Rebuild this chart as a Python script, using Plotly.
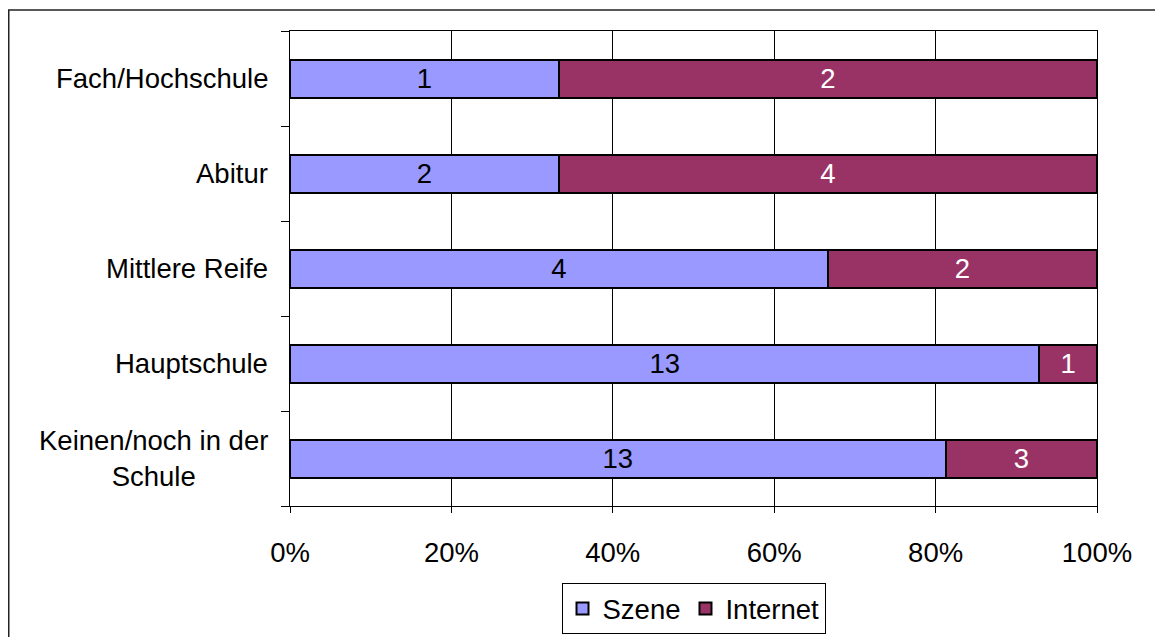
import plotly.graph_objects as go

categories = ["Keinen/noch in der Schule", "Hauptschule", "Mittlere Reife", "Abitur", "Fach/Hochschule"]
category_labels = ["Keinen/noch in der<br>Schule", "Hauptschule", "Mittlere Reife", "Abitur", "Fach/Hochschule"]
szene = [13, 13, 4, 2, 1]
internet = [3, 1, 2, 4, 2]
x_ticks = [0, 0.2, 0.4, 0.6, 0.8, 1.0]

FONT = "Liberation Sans, Arial, sans-serif"
FS = 27.5

fig = go.Figure()
fig.add_trace(go.Bar(
    y=categories, x=szene, name="Szene", orientation="h",
    marker=dict(color="#9999FF", line=dict(color="black", width=2)),
    text=szene, textposition="inside", insidetextanchor="middle", textangle=0,
    textfont=dict(color="black", size=FS, family=FONT),
))
fig.add_trace(go.Bar(
    y=categories, x=internet, name="Internet", orientation="h",
    marker=dict(color="#993366", line=dict(color="black", width=2)),
    text=internet, textposition="inside", insidetextanchor="middle", textangle=0,
    textfont=dict(color="white", size=FS, family=FONT),
))

W, H = 1155, 629
L, T = 282, 23
pw, ph = 807, 475
R, B = W - L - pw, H - T - ph

annotations = [
    dict(x=0, xref="paper", y=cat, yref="y", text=lab, showarrow=False,
         xanchor="right", yanchor="middle", align="center", xshift=-20,
         font=dict(size=FS, family=FONT, color="black"))
    for cat, lab in zip(categories, category_labels)
]

fig.update_layout(
    width=W, height=H,
    margin=dict(l=L, r=R, t=T, b=B, autoexpand=False),
    barmode="stack", barnorm="fraction", bargap=0.6,
    paper_bgcolor="white", plot_bgcolor="white",
    font=dict(family=FONT, size=FS, color="black"),
    uniformtext=dict(minsize=FS, mode="show"),
    legend=dict(
        orientation="h", traceorder="normal",
        x=0.5, xanchor="center",
        yref="container", y=3 / H, yanchor="bottom",
        bordercolor="black", borderwidth=1,
        font=dict(size=FS, family=FONT, color="black"),
        tracegroupgap=0,
    ),
    showlegend=True,
    xaxis=dict(
        range=[0, 1], tickvals=x_ticks, tickformat=".0%",
        showgrid=True, gridcolor="black", gridwidth=1,
        showline=True, linecolor="black", linewidth=1, mirror=True,
        ticks="outside", ticklen=6, tickcolor="black",
        ticklabelstandoff=16, zeroline=False, automargin=False,
        tickfont=dict(size=FS, family=FONT),
    ),
    yaxis=dict(
        type="category", tickson="boundaries", categoryorder="array",
        categoryarray=categories, showticklabels=False,
        showline=True, linecolor="black", linewidth=1, mirror=True,
        ticks="outside", ticklen=8, tickcolor="black",
        showgrid=False, automargin=False,
    ),
    annotations=annotations,
    shapes=[dict(
        type="rect", xref="paper", yref="paper", layer="below",
        x0=(0.75 - L) / pw, x1=(W + 10 - L) / pw,
        y0=-(H + 10 - (T + ph)) / ph, y1=1 + (T - 2) / ph,
        line=dict(color="#222", width=1.5), fillcolor="rgba(0,0,0,0)",
    )],
)

fig.write_html("out.html")
